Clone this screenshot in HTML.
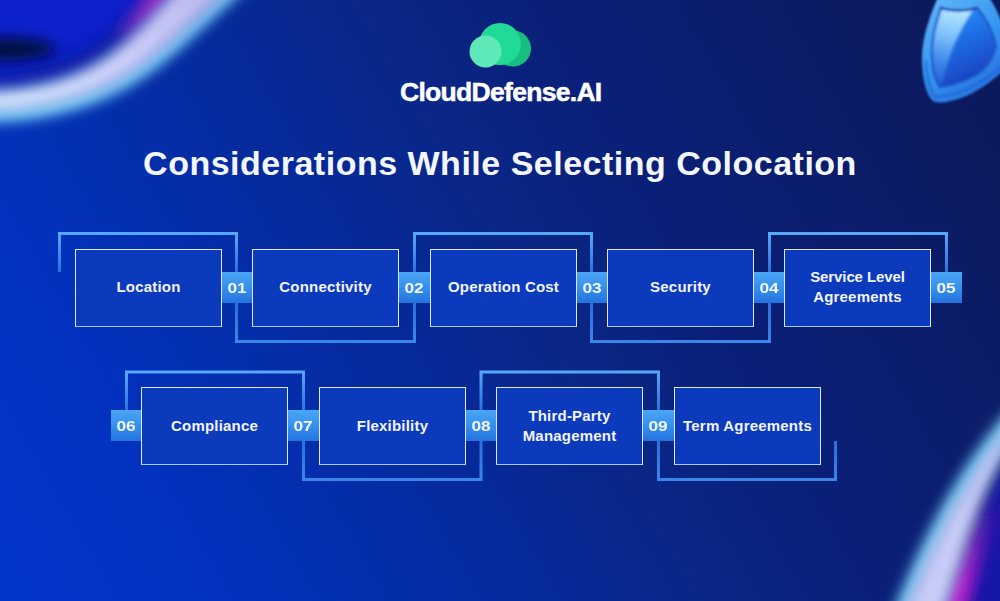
<!DOCTYPE html>
<html lang="en">
<head>
<meta charset="utf-8">
<title>Considerations While Selecting Colocation</title>
<style>
html,body{margin:0;padding:0;}
body{width:1000px;height:601px;overflow:hidden;position:relative;font-family:"Liberation Sans",sans-serif;
background:linear-gradient(60deg,#0236cb 0%,#0232be 17%,#062a9c 39%,#0a2686 54%,#0a2078 65%,#0b1c68 83%,#0c1a60 91%,#0d185a 100%);}
#bg{position:absolute;left:0;top:0;width:1000px;height:601px;}
.box{position:absolute;box-sizing:border-box;width:147px;height:77.5px;border:1.5px solid #dfe8ff;border-bottom-color:#a9c9fa;background:#0b3abc;
display:flex;align-items:center;justify-content:center;text-align:center;color:#f2f4ff;font-weight:bold;font-size:15px;line-height:20px;letter-spacing:0.2px;padding-bottom:0;}
.num{position:absolute;box-sizing:border-box;width:30px;height:31px;background:linear-gradient(180deg,#4ba6f6 0%,#3590ec 50%,#2472de 100%);color:#f2f4ff;font-weight:bold;font-size:14.5px;line-height:32px;text-align:center;}
.num span{display:inline-block;transform:scaleX(1.2);}
#logo{position:absolute;left:400px;top:77px;width:201px;color:#fff;font-weight:bold;font-size:26.5px;line-height:30px;white-space:nowrap;letter-spacing:-0.7px;-webkit-text-stroke:0.5px #fff;}
#title{position:absolute;left:0;top:143px;width:1000px;text-align:center;color:#f3f6ff;font-weight:bold;font-size:34px;line-height:40px;white-space:nowrap;letter-spacing:0.5px;}
</style>
</head>
<body>
<svg id="bg" viewBox="0 0 1000 601">
  <defs>
    <filter id="b12" x="-50%" y="-50%" width="200%" height="200%"><feGaussianBlur stdDeviation="9"/></filter>
    <filter id="b6" x="-50%" y="-50%" width="200%" height="200%"><feGaussianBlur stdDeviation="5"/></filter>
    <filter id="b9" x="-50%" y="-50%" width="200%" height="200%"><feGaussianBlur stdDeviation="7"/></filter>
    <filter id="b1" x="-20%" y="-20%" width="140%" height="140%"><feGaussianBlur stdDeviation="1.2"/></filter>
    <linearGradient id="shRim" gradientUnits="userSpaceOnUse" x1="925" y1="10" x2="990" y2="100">
      <stop offset="0" stop-color="#5cb4f8"/><stop offset="0.5" stop-color="#3494f0"/><stop offset="0.85" stop-color="#2a78e2"/><stop offset="1" stop-color="#2262cc"/>
    </linearGradient>
    <linearGradient id="shFace" gradientUnits="userSpaceOnUse" x1="950" y1="10" x2="985" y2="85">
      <stop offset="0" stop-color="#2a90f6"/><stop offset="0.45" stop-color="#1c68e0"/><stop offset="1" stop-color="#1838b8"/>
    </linearGradient>
    <linearGradient id="shFaceL" gradientUnits="userSpaceOnUse" x1="955" y1="10" x2="938" y2="85">
      <stop offset="0" stop-color="#b4e6ff"/><stop offset="0.35" stop-color="#7cc0fa"/><stop offset="0.7" stop-color="#3c86ea"/><stop offset="1" stop-color="#2260d8"/>
    </linearGradient>
    <linearGradient id="pgBR" gradientUnits="userSpaceOnUse" x1="0" y1="500" x2="0" y2="590">
      <stop offset="0" stop-color="#b41ccc" stop-opacity="0"/><stop offset="1" stop-color="#b41ccc" stop-opacity="1"/>
    </linearGradient>
    <linearGradient id="pgTL" gradientUnits="userSpaceOnUse" x1="110" y1="45" x2="150" y2="5">
      <stop offset="0" stop-color="#9426c8" stop-opacity="0"/><stop offset="1" stop-color="#9426c8" stop-opacity="1"/>
    </linearGradient>
    <linearGradient id="bt1" gradientUnits="userSpaceOnUse" x1="0" y1="232" x2="0" y2="272"><stop offset="0" stop-color="#58aaf9"/><stop offset="0.25" stop-color="#4c9cf4"/><stop offset="1" stop-color="#2c72e0"/></linearGradient>
    <linearGradient id="bb1" gradientUnits="userSpaceOnUse" x1="0" y1="302" x2="0" y2="343"><stop offset="0" stop-color="#2a6ee0"/><stop offset="1" stop-color="#3a86ea"/></linearGradient>
    <linearGradient id="bt2" gradientUnits="userSpaceOnUse" x1="0" y1="370" x2="0" y2="410"><stop offset="0" stop-color="#58aaf9"/><stop offset="0.25" stop-color="#4c9cf4"/><stop offset="1" stop-color="#2c72e0"/></linearGradient>
    <linearGradient id="bb2" gradientUnits="userSpaceOnUse" x1="0" y1="440" x2="0" y2="481"><stop offset="0" stop-color="#2a6ee0"/><stop offset="1" stop-color="#3a86ea"/></linearGradient>
    <linearGradient id="bandTL" gradientUnits="userSpaceOnUse" x1="20" y1="100" x2="190" y2="0">
      <stop offset="0" stop-color="#d4e4fc"/><stop offset="0.5" stop-color="#cdd2fa"/><stop offset="1" stop-color="#c0bef2"/>
    </linearGradient>
    <filter id="b2" x="-50%" y="-50%" width="200%" height="200%"><feGaussianBlur stdDeviation="1.6"/></filter>
    <linearGradient id="brk" x1="0" y1="0" x2="0" y2="1">
      <stop offset="0" stop-color="#56a8f8"/><stop offset="1" stop-color="#2c72dc"/>
    </linearGradient>
  </defs>
  <!-- top-left glow ring -->
  <g id="tl">
    <path d="M-40.2 81.5 L-33.6 81.7 L-27.0 81.8 L-20.3 81.8 L-13.7 81.7 L-7.0 81.4 L-0.4 81.1 L6.2 80.5 L12.9 79.9 L19.5 79.0 L26.0 78.0 L32.5 76.9 L39.0 75.5 L45.4 74.0 L51.7 72.3 L57.9 70.4 L64.1 68.3 L70.1 65.9 L76.1 63.4 L81.9 60.6 L87.6 57.6 L93.2 54.3 L98.7 50.8 L104.0 47.1 L109.3 43.2 L114.4 39.1 L119.4 34.8 L124.3 30.4 L129.1 25.8 L133.9 21.1 L138.5 16.4 L143.1 11.5 L147.6 6.6 L152.1 1.6 L156.5 -3.4 L160.8 -8.4 L165.1 -13.4 L169.4 -18.4 L173.6 -23.4 L177.8 -28.3 L178.0 -60.0 L-60.0 -60.0 Z" fill="#0822cc" filter="url(#b9)"/>
    <path d="M-40.2 81.5 L-33.6 81.7 L-27.0 81.8 L-20.3 81.8 L-13.7 81.7 L-7.0 81.4 L-0.4 81.1 L6.2 80.5 L12.9 79.9 L19.5 79.0 L26.0 78.0 L32.5 76.9 L39.0 75.5 L45.4 74.0 L51.7 72.3 L57.9 70.4 L64.1 68.3 L70.1 65.9 L76.1 63.4 L81.9 60.6 L87.6 57.6 L93.2 54.3 L98.7 50.8 L104.0 47.1 L109.3 43.2 L114.4 39.1 L119.4 34.8 L124.3 30.4 L129.1 25.8 L133.9 21.1 L138.5 16.4 L143.1 11.5 L147.6 6.6 L152.1 1.6 L156.5 -3.4 L160.8 -8.4 L165.1 -13.4 L169.4 -18.4 L173.6 -23.4 L177.8 -28.3 L178.0 -60.0 L-60.0 -60.0 Z" fill="none" stroke="#0c1494" stroke-width="14" filter="url(#b12)" opacity="0.8"/>
    <ellipse cx="4" cy="49" rx="52" ry="11" fill="#020838" filter="url(#b9)"/>
    <path d="M120.1 35.5 L125.0 31.1 L129.8 26.5 L134.6 21.8 L139.3 17.0 L143.8 12.2 L148.4 7.2 L152.8 2.3 L157.2 -2.7 L161.6 -7.7 L165.9 -12.8 L170.1 -17.8 L174.3 -22.7 L178.5 -27.6" fill="none" stroke="url(#pgTL)" stroke-width="18" filter="url(#b9)"/>
    <path d="M-39.5 113.6 L-30.8 114.1 L-22.0 114.3 L-13.2 114.3 L-4.4 114.1 L4.4 113.7 L13.1 113.1 L21.9 112.2 L30.6 111.1 L39.2 109.7 L47.8 108.1 L56.3 106.2 L64.8 104.1 L73.1 101.7 L81.4 99.1 L89.5 96.2 L97.6 93.0 L105.5 89.6 L113.2 85.9 L120.9 81.9 L128.3 77.6 L135.6 73.1 L142.8 68.2 L149.8 63.1 L156.8 57.7 L163.6 52.1 L170.4 46.4 L177.1 40.5 L183.8 34.4 L190.4 28.4 L197.0 22.3 L203.7 16.2 L210.3 10.2 L216.8 4.1 L223.3 -1.9 L229.6 -7.9 L235.9 -14.0 L242.1 -20.3 L248.1 -26.6 L254.0 -33.2" fill="none" stroke="#6ccaf4" stroke-width="16" filter="url(#b9)"/>
    <path d="M-39.4 111.6 L-30.7 112.1 L-22.0 112.3 L-13.2 112.3 L-4.5 112.1 L4.2 111.7 L13.0 111.1 L21.6 110.2 L30.3 109.1 L38.9 107.7 L47.4 106.1 L55.9 104.3 L64.3 102.2 L72.5 99.8 L80.7 97.2 L88.8 94.3 L96.8 91.2 L104.6 87.8 L112.3 84.1 L119.9 80.2 L127.3 75.9 L134.5 71.4 L141.6 66.6 L148.6 61.5 L155.5 56.1 L162.3 50.6 L169.1 44.8 L175.8 39.0 L182.4 33.0 L189.1 26.9 L195.7 20.8 L202.3 14.7 L208.9 8.7 L215.4 2.7 L221.9 -3.3 L228.3 -9.4 L234.5 -15.5 L240.7 -21.7 L246.7 -28.0 L252.5 -34.5 L184.6 -22.4 L180.4 -17.5 L176.2 -12.6 L171.9 -7.6 L167.6 -2.5 L163.2 2.5 L158.8 7.6 L154.3 12.6 L149.7 17.6 L145.0 22.6 L140.3 27.5 L135.4 32.3 L130.4 37.0 L125.3 41.5 L120.1 46.0 L114.8 50.3 L109.3 54.4 L103.7 58.3 L97.9 62.0 L92.0 65.4 L86.0 68.6 L79.8 71.6 L73.5 74.3 L67.1 76.7 L60.7 78.9 L54.2 81.0 L47.6 82.7 L40.9 84.3 L34.2 85.7 L27.5 86.9 L20.7 87.9 L13.9 88.8 L7.1 89.5 L0.2 90.0 L-6.6 90.4 L-13.4 90.7 L-20.2 90.8 L-27.0 90.8 L-33.8 90.7 L-40.5 90.5 Z" fill="url(#bandTL)" filter="url(#b9)"/>
  </g>
  <!-- bottom-right glow ring -->
  <g id="br">
    <path d="M1024.2 432.1 L1020.9 436.6 L1017.8 441.3 L1014.8 446.0 L1011.8 450.7 L1009.0 455.5 L1006.3 460.3 L1003.7 465.2 L1001.1 470.1 L998.7 475.0 L996.3 480.0 L994.0 485.1 L991.8 490.1 L989.7 495.2 L987.6 500.3 L985.6 505.5 L983.6 510.7 L981.7 515.9 L979.8 521.1 L978.0 526.3 L976.2 531.6 L974.5 536.8 L972.8 542.1 L971.1 547.4 L969.4 552.7 L967.8 558.0 L966.1 563.3 L964.5 568.7 L962.9 574.0 L961.2 579.3 L959.6 584.6 L958.0 589.9 L956.3 595.2 L954.6 600.5 L952.9 605.8 L951.2 611.1 L949.4 616.3 L947.6 621.5 L945.8 626.7 L943.9 631.9 L1060.0 640.0 L1060.0 400.0 Z" fill="#1218a6" filter="url(#b9)"/>
    <path d="M990.4 501.4 L988.4 506.6 L986.4 511.7 L984.5 516.9 L982.7 522.1 L980.9 527.3 L979.1 532.5 L977.4 537.8 L975.6 543.0 L974.0 548.3 L972.3 553.6 L970.6 558.9 L969.0 564.2 L967.4 569.5 L965.7 574.9 L964.1 580.2 L962.5 585.5 L960.8 590.8 L959.2 596.1 L957.5 601.4 L955.8 606.7 L954.0 612.0 L952.2 617.3 L950.4 622.5 L948.6 627.8 L946.7 633.0" fill="none" stroke="url(#pgBR)" stroke-width="22" filter="url(#b9)"/>
    <path d="M1031.5 399.1 L1026.6 404.2 L1021.9 409.4 L1017.2 414.6 L1012.6 420.0 L1008.1 425.4 L1003.6 430.8 L999.3 436.3 L995.0 441.9 L990.8 447.5 L986.7 453.2 L982.6 458.9 L978.7 464.7 L974.8 470.5 L970.9 476.4 L967.2 482.4 L963.5 488.4 L959.9 494.4 L956.3 500.5 L952.8 506.6 L949.4 512.7 L946.0 518.9 L942.7 525.2 L939.5 531.5 L936.3 537.8 L933.1 544.1 L930.0 550.5 L927.0 556.9 L924.0 563.3 L921.1 569.8 L918.2 576.3 L915.4 582.8 L912.6 589.3 L909.9 595.8 L907.2 602.4 L904.6 609.0 L902.0 615.6 L899.4 622.2 L896.9 628.8 L894.4 635.5" fill="none" stroke="#6ccaf4" stroke-width="18" filter="url(#b9)"/>
    <path d="M1031.5 399.1 L1026.6 404.2 L1021.9 409.4 L1017.2 414.6 L1012.6 420.0 L1008.1 425.4 L1003.6 430.8 L999.3 436.3 L995.0 441.9 L990.8 447.5 L986.7 453.2 L982.6 458.9 L978.7 464.7 L974.8 470.5 L970.9 476.4 L967.2 482.4 L963.5 488.4 L959.9 494.4 L956.3 500.5 L952.8 506.6 L949.4 512.7 L946.0 518.9 L942.7 525.2 L939.5 531.5 L936.3 537.8 L933.1 544.1 L930.0 550.5 L927.0 556.9 L924.0 563.3 L921.1 569.8 L918.2 576.3 L915.4 582.8 L912.6 589.3 L909.9 595.8 L907.2 602.4 L904.6 609.0 L902.0 615.6 L899.4 622.2 L896.9 628.8 L894.4 635.5 L939.2 630.2 L941.1 625.1 L942.9 619.9 L944.7 614.7 L946.4 609.5 L948.1 604.2 L949.8 599.0 L951.5 593.7 L953.2 588.4 L954.8 583.1 L956.5 577.8 L958.1 572.5 L959.7 567.2 L961.4 561.9 L963.0 556.6 L964.7 551.2 L966.3 545.9 L968.0 540.6 L969.8 535.3 L971.5 530.0 L973.3 524.7 L975.1 519.4 L977.0 514.2 L978.9 508.9 L980.9 503.7 L982.9 498.5 L985.0 493.3 L987.2 488.1 L989.5 483.0 L991.8 477.9 L994.2 472.9 L996.7 467.8 L999.2 462.8 L1001.9 457.9 L1004.7 453.0 L1007.5 448.1 L1010.5 443.3 L1013.6 438.5 L1016.8 433.8 L1020.2 429.1 Z" fill="#c8ccf8" filter="url(#b9)"/>
  </g>
  <!-- shield -->
  <g id="shield" filter="url(#b1)">
    <path d="M938 -3 C930 15 922 38 922 57 C922 78 926 92 931 99 C934 103 940 103 946 102 C964 99 982 90 1003 71 L1003 26 C999 14 994 5 989 -3 Z" fill="url(#shRim)"/>
    <path d="M926 60 C927 80 930 91 935 97 C956 96 978 87 1003 66" fill="none" stroke="#1f62d4" stroke-width="3" opacity="0.6"/>
    <path d="M941 8 C950 11.5 968 11.5 977 8 C986 18 993 32 996 46 C994 57 989 64 983 70 C972 79 956 85 940 87 C935 80 932 68 932 57 C931 42 935 25 941 8 Z" fill="url(#shFace)" stroke="#2158cc" stroke-width="2.5"/>
    <g filter="url(#b1)"><path d="M942 9 C950 12 964 12 973 10 C964 24 955 40 950 56 C946 68 943 78 941 86 C936 80 933 68 933 57 C932 42 936 25 942 9 Z" fill="url(#shFaceL)"/></g>
    <path d="M940 7.5 C950 11 968 11 978 7.5" fill="none" stroke="#1c3cae" stroke-width="2.2" opacity="0.85"/>
  </g>
</svg>

<div id="logo">CloudDefense.AI</div>
<div id="title">Considerations While Selecting Colocation</div>

<svg id="fg" style="position:absolute;left:0;top:0" width="1000" height="601" viewBox="0 0 1000 601">
  <!-- logo cloud -->
  <circle cx="513" cy="48.5" r="18" fill="#17be80"/>
  <circle cx="500" cy="44" r="21" fill="#22da98"/>
  <circle cx="485.5" cy="51.5" r="16" fill="#5fe8b8"/>
  <!-- brackets row 1 -->
  <g fill="none" stroke-width="3" stroke-linejoin="miter">
    <path d="M59.5 272V233.5H236.5V272" stroke="url(#bt1)"/>
    <path d="M236.5 302V341.5H414.5V302" stroke="url(#bb1)"/>
    <path d="M414.5 272V233.5H591.5V272" stroke="url(#bt1)"/>
    <path d="M591.5 302V341.5H769.5V302" stroke="url(#bb1)"/>
    <path d="M769.5 272V233.5H946.5V272" stroke="url(#bt1)"/>
    <!-- row 2 -->
    <path d="M126.5 410V372H303.5V410" stroke="url(#bt2)"/>
    <path d="M303.5 440V479.5H481V440" stroke="url(#bb2)"/>
    <path d="M481 410V372H658.5V410" stroke="url(#bt2)"/>
    <path d="M658.5 440V479.5H835.5V441" stroke="url(#bb2)"/>
  </g>
</svg>

<div class="box" style="left:75px;top:249px;padding-bottom:1.5px">Location</div>
<div class="num" style="left:222px;top:272px"><span>01</span></div>
<div class="box" style="left:252px;top:249px;padding-bottom:1.5px">Connectivity</div>
<div class="num" style="left:399px;top:272px;width:31px"><span>02</span></div>
<div class="box" style="left:430px;top:249px;padding-bottom:1.5px">Operation Cost</div>
<div class="num" style="left:577px;top:272px"><span>03</span></div>
<div class="box" style="left:607px;top:249px;padding-bottom:1.5px">Security</div>
<div class="num" style="left:754px;top:272px"><span>04</span></div>
<div class="box" style="left:784px;top:249px;padding-bottom:1.5px"><div><span style="letter-spacing:-0.1px">Service Level</span><br>Agreements</div></div>
<div class="num" style="left:931px;top:272px;width:31px"><span>05</span></div>

<div class="num" style="left:111px;top:410px"><span>06</span></div>
<div class="box" style="left:141px;top:387px">Compliance</div>
<div class="num" style="left:288px;top:410px;width:31px"><span>07</span></div>
<div class="box" style="left:319px;top:387px">Flexibility</div>
<div class="num" style="left:466px;top:410px"><span>08</span></div>
<div class="box" style="left:496px;top:387px">Third-Party<br>Management</div>
<div class="num" style="left:643px;top:410px;width:31px"><span>09</span></div>
<div class="box" style="left:674px;top:387px">Term Agreements</div>
</body>
</html>
